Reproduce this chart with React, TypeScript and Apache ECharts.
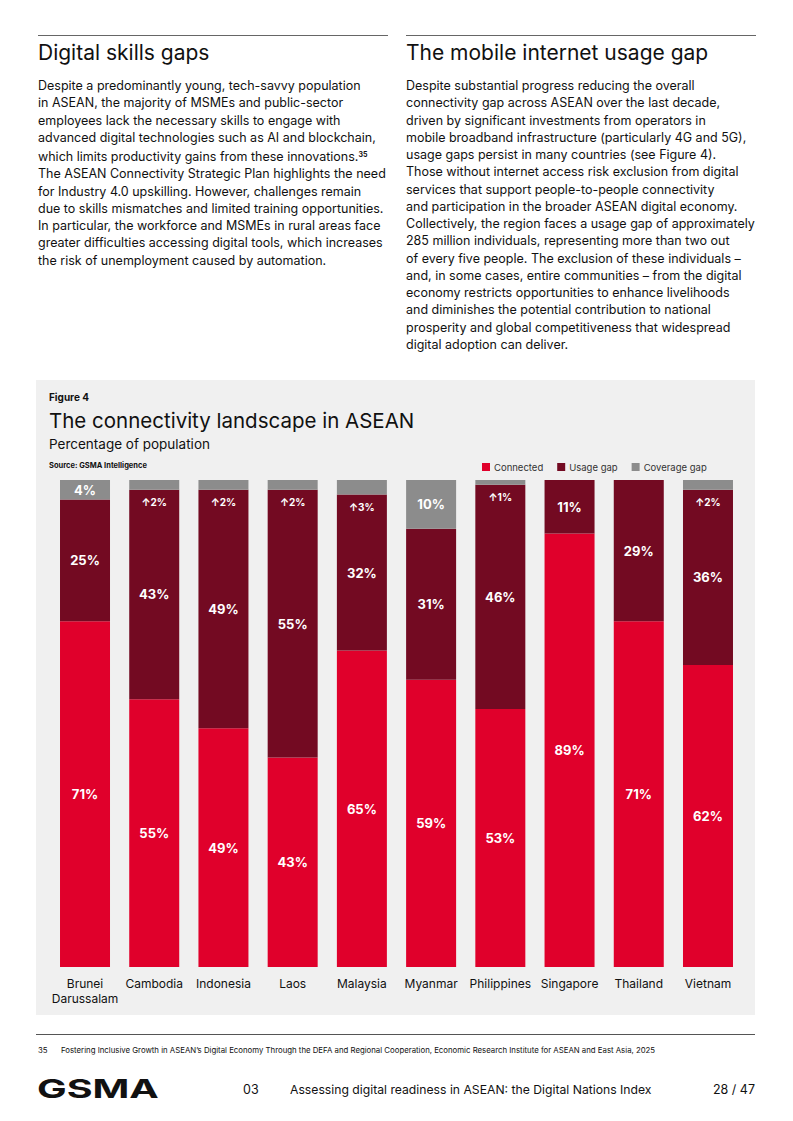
import React, { useEffect, useRef } from "react";
import * as echarts from "echarts";

const categories = [
  "Brunei\nDarussalam",
  "Cambodia",
  "Indonesia",
  "Laos",
  "Malaysia",
  "Myanmar",
  "Philippines",
  "Singapore",
  "Thailand",
  "Vietnam",
];
const connected = [71, 55, 49, 43, 65, 59, 53, 89, 71, 62];
const usageGap = [25, 43, 49, 55, 32, 31, 46, 11, 29, 36];
const coverageGap = [4, 2, 2, 2, 3, 10, 1, 0, 0, 2];

const seriesNames = ["Connected", "Usage gap", "Coverage gap"];
const colors = ["#E0002B", "#730A22", "#8C8C8C"];

const leftLines = [
  "Despite a predominantly young, tech-savvy population",
  "in ASEAN, the majority of MSMEs and public-sector",
  "employees lack the necessary skills to engage with",
  "advanced digital technologies such as AI and blockchain,",
  "which limits productivity gains from these innovations.",
  "The ASEAN Connectivity Strategic Plan highlights the need",
  "for Industry 4.0 upskilling. However, challenges remain",
  "due to skills mismatches and limited training opportunities.",
  "In particular, the workforce and MSMEs in rural areas face",
  "greater difficulties accessing digital tools, which increases",
  "the risk of unemployment caused by automation.",
];
const rightLines = [
  "Despite substantial progress reducing the overall",
  "connectivity gap across ASEAN over the last decade,",
  "driven by significant investments from operators in",
  "mobile broadband infrastructure (particularly 4G and 5G),",
  "usage gaps persist in many countries (see Figure 4).",
  "Those without internet access risk exclusion from digital",
  "services that support people-to-people connectivity",
  "and participation in the broader ASEAN digital economy.",
  "Collectively, the region faces a usage gap of approximately",
  "285 million individuals, representing more than two out",
  "of every five people. The exclusion of these individuals –",
  "and, in some cases, entire communities – from the digital",
  "economy restricts opportunities to enhance livelihoods",
  "and diminishes the potential contribution to national",
  "prosperity and global competitiveness that widespread",
  "digital adoption can deliver.",
];

const FONT = "Inter, 'Noto Sans', Arial, sans-serif";

function Chart() {
  const ref = useRef<HTMLDivElement>(null);
  useEffect(() => {
    if (!ref.current) return;
    const chart = echarts.init(ref.current, undefined, { renderer: "svg" });
    const bigLabel = {
      show: true,
      position: "inside" as const,
      color: "#fff",
      fontWeight: "bold" as const,
      fontSize: 13,
      fontFamily: FONT,
      formatter: (p: any) => `${p.value}%`,
    };
    const coverageData = coverageGap.map((v) => {
      if (v >= 4) {
        return { value: v, label: { ...bigLabel, show: true } };
      }
      if (v > 0) {
        return {
          value: v,
          label: {
            show: true,
            position: "bottom" as const,
            distance: 7,
            color: "#fff",
            fontWeight: "bold" as const,
            fontSize: 10,
            fontFamily: FONT,
            formatter: () => `↑${v}%`,
          },
        };
      }
      return { value: v, label: { show: false } };
    });
    chart.setOption({
      animation: false,
      backgroundColor: "#F0F0F0",
      textStyle: { fontFamily: FONT },
      graphic: [
        {
          type: "text",
          left: 13,
          top: 12,
          style: { text: "Figure 4", fontSize: 10, fontWeight: "bold", fill: "#111", fontFamily: FONT },
        },
        {
          type: "text",
          left: 13,
          top: 30,
          style: { text: "The connectivity landscape in ASEAN", fontSize: 20.5, fill: "#111", fontFamily: FONT },
        },
        {
          type: "text",
          left: 13,
          top: 57,
          style: { text: "Percentage of population", fontSize: 13.5, fill: "#111", fontFamily: FONT },
        },
        {
          type: "text",
          left: 13,
          top: 81,
          style: { text: "Source: GSMA Intelligence", fontSize: 7.5, fontWeight: "bold", fill: "#111", fontFamily: FONT },
        },
      ],
      legend: {
        left: 441,
        top: 77,
        itemWidth: 8,
        itemHeight: 8,
        itemGap: 14,
        icon: "rect",
        textStyle: { fontSize: 9.5, color: "#333", fontFamily: FONT, padding: [0, 0, 0, -1] },
        data: seriesNames,
      },
      grid: { left: 14.4, right: 12.4, top: 100, bottom: 48 },
      xAxis: {
        type: "category",
        data: categories,
        axisLine: { show: false },
        axisTick: { show: false },
        axisLabel: { color: "#111", fontSize: 12, lineHeight: 15, margin: 9, fontFamily: FONT, interval: 0 },
      },
      yAxis: { type: "value", min: 0, max: 100, show: false, splitLine: { show: false } },
      series: [
        {
          name: seriesNames[0],
          type: "bar",
          stack: "total",
          barWidth: 50,
          itemStyle: { color: colors[0] },
          label: bigLabel,
          data: connected,
        },
        {
          name: seriesNames[1],
          type: "bar",
          stack: "total",
          barWidth: 50,
          itemStyle: { color: colors[1] },
          label: bigLabel,
          data: usageGap,
        },
        {
          name: seriesNames[2],
          type: "bar",
          stack: "total",
          barWidth: 50,
          itemStyle: { color: colors[2] },
          data: coverageData,
        },
      ],
    });
    return () => chart.dispose();
  }, []);
  return <div ref={ref} style={{ position: "absolute", left: 36, top: 380, width: 719, height: 635 }} />;
}

const colStyle = (left: number): React.CSSProperties => ({
  position: "absolute",
  left,
  top: 35,
  width: 350,
  borderTop: "1.5px solid #666",
});

const heading: React.CSSProperties = {
  fontSize: 21,
  color: "#111",
  marginTop: 4,
  lineHeight: "26px",
  whiteSpace: "nowrap",
};
const para: React.CSSProperties = {
  marginTop: 11,
  fontSize: 12.5,
  lineHeight: "17.27px",
  color: "#111",
};

export default function App() {
  return (
    <div
      style={{
        position: "absolute",
        left: 0,
        top: 0,
        width: 793,
        height: 1121,
        background: "#fff",
        fontFamily: FONT,
        overflow: "hidden",
      }}
    >
      <div style={colStyle(38)}>
        <div style={heading}>Digital skills gaps</div>
        <div style={para}>
          {leftLines.map((l, i) => (
            <div key={i} style={{ whiteSpace: "nowrap" }}>
              {l}
              {i === 4 ? <sup style={{ fontSize: 7, fontWeight: "bold", verticalAlign: "4px" }}>35</sup> : null}
            </div>
          ))}
        </div>
      </div>
      <div style={colStyle(406)}>
        <div style={heading}>The mobile internet usage gap</div>
        <div style={para}>
          {rightLines.map((l, i) => (
            <div key={i} style={{ whiteSpace: "nowrap" }}>
              {l}
            </div>
          ))}
        </div>
      </div>
      <Chart />
      <div style={{ position: "absolute", left: 36, top: 1034, width: 719, borderTop: "1.5px solid #555" }} />
      <div style={{ position: "absolute", left: 38, top: 1045, fontSize: 7.8, color: "#111", whiteSpace: "nowrap" }}>
        35
      </div>
      <div style={{ position: "absolute", left: 61, top: 1045, fontSize: 7.8, color: "#111", whiteSpace: "nowrap" }}>
        Fostering Inclusive Growth in ASEAN’s Digital Economy Through the DEFA and Regional Cooperation, Economic Research Institute for ASEAN and East Asia, 2025
      </div>
      <div
        style={{
          position: "absolute",
          left: 37,
          top: 1073,
          fontSize: 26,
          fontWeight: 700,
          color: "#111",
          lineHeight: "32px",
          transform: "scaleX(1.52)",
          transformOrigin: "left center",
          whiteSpace: "nowrap",
        }}
      >
        GSMA
      </div>
      <div style={{ position: "absolute", left: 243, top: 1082, fontSize: 12.5, color: "#111" }}>03</div>
      <div style={{ position: "absolute", left: 290, top: 1082, fontSize: 12.2, color: "#111", whiteSpace: "nowrap" }}>
        Assessing digital readiness in ASEAN: the Digital Nations Index
      </div>
      <div style={{ position: "absolute", right: 38, top: 1082, fontSize: 12.5, color: "#111" }}>28 / 47</div>
    </div>
  );
}
